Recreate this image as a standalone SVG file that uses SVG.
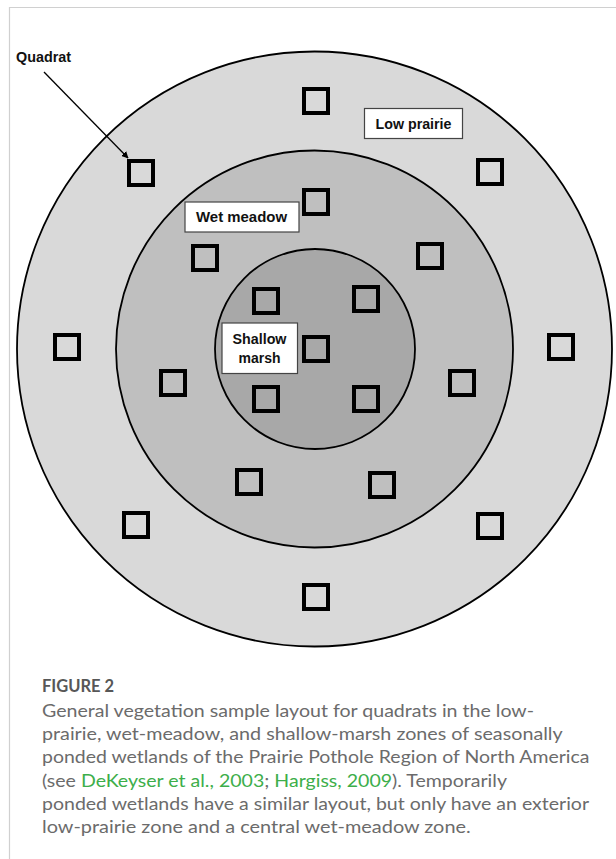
<svg xmlns="http://www.w3.org/2000/svg" width="616" height="859" viewBox="0 0 616 859">
<style>
.zone{stroke:#000;stroke-width:1.8}
.q{fill:none;stroke:#000;stroke-width:4}
.lbl{fill:#fff;stroke:#444;stroke-width:1.2}
.lt{font-family:"Liberation Sans",Arial,sans-serif;font-weight:bold;font-size:14.5px;fill:#111}
.cap{font-family:Lato,"Noto Sans",sans-serif;font-size:17px;fill:#6b6b6b}
.link{fill:#3cae4a}
</style>
<defs>
<marker id="ah" viewBox="0 0 10 10" refX="9" refY="5" markerWidth="7" markerHeight="7" orient="auto" markerUnits="userSpaceOnUse">
<path d="M0,0 L10,5 L0,10 z" fill="#000"/>
</marker>
</defs>
<rect width="616" height="859" fill="#fff"/>
<path d="M9.5,859 V7.5 H616" fill="none" stroke="#d0d0d0" stroke-width="1.2"/>

<g id="low-prairie-zone"><circle class="zone" cx="314.5" cy="349" r="297.5" fill="#d9d9d9"/></g>
<g id="wet-meadow-zone"><circle class="zone" cx="314.5" cy="349" r="198.5" fill="#bfbfbf"/></g>
<g id="shallow-marsh-zone"><circle class="zone" cx="315" cy="349" r="100" fill="#a8a8a8"/></g>

<g id="quadrats">
<rect class="q" x="304" y="89" width="24" height="24"/>
<rect class="q" x="129" y="161" width="24" height="24"/>
<rect class="q" x="478" y="160" width="24" height="24"/>
<rect class="q" x="55" y="335" width="24" height="24"/>
<rect class="q" x="549" y="335" width="24" height="24"/>
<rect class="q" x="124" y="513" width="24" height="24"/>
<rect class="q" x="478" y="514" width="24" height="24"/>
<rect class="q" x="304" y="585" width="24" height="24"/>
<rect class="q" x="304" y="190" width="24" height="24"/>
<rect class="q" x="193" y="246" width="24" height="24"/>
<rect class="q" x="418" y="244" width="24" height="24"/>
<rect class="q" x="161" y="371" width="24" height="24"/>
<rect class="q" x="450" y="371" width="24" height="24"/>
<rect class="q" x="237" y="470" width="24" height="24"/>
<rect class="q" x="370" y="473" width="24" height="24"/>
<rect class="q" x="254" y="289" width="24" height="24"/>
<rect class="q" x="354" y="287" width="24" height="24"/>
<rect class="q" x="304" y="337" width="24" height="24"/>
<rect class="q" x="254" y="387" width="24" height="24"/>
<rect class="q" x="354" y="387" width="24" height="24"/>
</g>

<g id="label-low-prairie">
<rect class="lbl" x="364.5" y="108.5" width="98" height="30"/>
<text class="lt" x="413.5" y="128.5" text-anchor="middle" textLength="76" lengthAdjust="spacingAndGlyphs">Low prairie</text>
</g>
<g id="label-wet-meadow">
<rect class="lbl" x="185" y="202" width="114" height="30"/>
<text class="lt" x="241.5" y="222" text-anchor="middle" textLength="91" lengthAdjust="spacingAndGlyphs">Wet meadow</text>
</g>
<g id="label-shallow-marsh">
<rect class="lbl" x="222" y="323" width="75.5" height="50.5"/>
<text class="lt" x="259.5" y="344.3" text-anchor="middle" textLength="54" lengthAdjust="spacingAndGlyphs">Shallow</text>
<text class="lt" x="259.5" y="363.3" text-anchor="middle" textLength="42" lengthAdjust="spacingAndGlyphs">marsh</text>
</g>
<g id="label-quadrat">
<text class="lt" x="16" y="62" textLength="55" lengthAdjust="spacingAndGlyphs">Quadrat</text>
</g>

<g id="connectors">
<line x1="44" y1="72" x2="128" y2="158" stroke="#000" stroke-width="1.3" marker-end="url(#ah)"/>
</g>

<g id="caption">
<text x="42" y="692" font-family="Lato,'Noto Sans',sans-serif" font-weight="bold" font-size="16.5px" fill="#575757">FIGURE 2</text>
<text class="cap" x="42" y="716.7" textLength="492" lengthAdjust="spacingAndGlyphs">General vegetation sample layout for quadrats in the low-</text>
<text class="cap" x="42" y="740" textLength="520.7" lengthAdjust="spacingAndGlyphs">prairie, wet-meadow, and shallow-marsh zones of seasonally</text>
<text class="cap" x="42" y="763.3" textLength="547.4" lengthAdjust="spacingAndGlyphs">ponded wetlands of the Prairie Pothole Region of North America</text>
<text class="cap" x="42" y="786.6" textLength="465" lengthAdjust="spacingAndGlyphs">(see <tspan class="link">DeKeyser et al., 2003</tspan>; <tspan class="link">Hargiss, 2009</tspan>). Temporarily</text>
<text class="cap" x="42" y="809.9" textLength="547" lengthAdjust="spacingAndGlyphs">ponded wetlands have a similar layout, but only have an exterior</text>
<text class="cap" x="42" y="833.2" textLength="428.7" lengthAdjust="spacingAndGlyphs">low-prairie zone and a central wet-meadow zone.</text>
</g>
</svg>
